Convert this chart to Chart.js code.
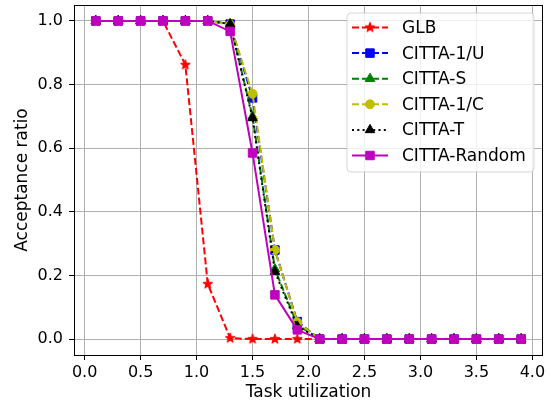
<!DOCTYPE html>
<html>
<head>
<meta charset="utf-8">
<script src="https://cdn.jsdelivr.net/npm/chart.js@4/dist/chart.umd.min.js"></script>
<style>
  body { margin: 0; background: #fff; }
  canvas { display: block; }
</style>
</head>
<body>
<canvas id="mycanvas" width="550" height="406"></canvas>
<script>
// task utilization (x) and acceptance ratio for each scheduler
var utilization = [0.1, 0.3, 0.5, 0.7, 0.9, 1.1, 1.3, 1.5, 1.7, 1.9, 2.1, 2.3, 2.5, 2.7, 2.9, 3.1, 3.3, 3.5, 3.7, 3.9];
var glb        = [1, 1, 1, 1, 0.862, 0.173, 0.003, 0, 0, 0, 0, 0, 0, 0, 0, 0, 0, 0, 0, 0];
var citta1U    = [1, 1, 1, 1, 1, 1, 0.99, 0.758, 0.28, 0.055, 0, 0, 0, 0, 0, 0, 0, 0, 0, 0];
var cittaS     = [1, 1, 1, 1, 1, 1, 0.99, 0.70, 0.22, 0.045, 0, 0, 0, 0, 0, 0, 0, 0, 0, 0];
var citta1C    = [1, 1, 1, 1, 1, 1, 0.988, 0.771, 0.28, 0.053, 0, 0, 0, 0, 0, 0, 0, 0, 0, 0];
var cittaT     = [1, 1, 1, 1, 1, 1, 0.99, 0.695, 0.212, 0.04, 0, 0, 0, 0, 0, 0, 0, 0, 0, 0];
var cittaRand  = [1, 1, 1, 1, 1, 1, 0.967, 0.585, 0.139, 0.029, 0, 0, 0, 0, 0, 0, 0, 0, 0, 0];

var xTicks = [0, 0.5, 1, 1.5, 2, 2.5, 3, 3.5, 4];
var yTicks = [0, 0.2, 0.4, 0.6, 0.8, 1.0];

var FONT = "'DejaVu Sans', sans-serif";

// filled 5 point star like matplotlib '*'
function makeStar(color) {
  var c = document.createElement('canvas');
  c.width = 14; c.height = 14;
  var g = c.getContext('2d');
  g.beginPath();
  for (var i = 0; i < 10; i++) {
    var r = (i % 2 === 0) ? 5.2 : 2.1;
    var a = -Math.PI / 2 + i * Math.PI / 5;
    var px = 7 + r * Math.cos(a), py = 7 + r * Math.sin(a);
    if (i === 0) g.moveTo(px, py); else g.lineTo(px, py);
  }
  g.closePath();
  g.fillStyle = color;
  g.strokeStyle = color;
  g.lineWidth = 1;
  g.fill();
  g.stroke();
  return c;
}

function pts(vals) {
  return utilization.map(function(x, i) { return {x: x, y: vals[i]}; });
}

function series(label, vals, color, dash, style, radius, order) {
  return {
    label: label,
    data: pts(vals),
    borderColor: color,
    backgroundColor: color,
    borderWidth: 2,
    borderDash: dash,
    pointStyle: style,
    pointRadius: radius,
    pointBorderWidth: 1,
    pointBackgroundColor: color,
    pointBorderColor: color,
    tension: 0,
    fill: false,
    order: order
  };
}

var DASH = [7, 3];
var DOT = [2, 3.3];

var datasets = [
  series('GLB', glb, '#ff0000', DASH, makeStar('#ff0000'), 5, 6),
  series('CITTA-1/U', citta1U, '#0000ff', DASH, 'rect', 6, 5),
  series('CITTA-S', cittaS, '#008000', DASH, 'triangle', 5.5, 4),
  series('CITTA-1/C', citta1C, '#bfbf00', DASH, 'circle', 4.5, 3),
  series('CITTA-T', cittaT, '#000000', DOT, 'triangle', 5.5, 2),
  series('CITTA-Random', cittaRand, '#bf00bf', [], 'rect', 6, 1)
];

var frameAndLegend = {
  id: 'frameAndLegend',
  afterDatasetsDraw: function(chart) {
    var ctx = chart.ctx, a = chart.chartArea;
    ctx.save();
    ctx.strokeStyle = '#000';
    ctx.lineWidth = 1;
    ctx.setLineDash([]);
    ctx.strokeRect(Math.round(a.left) + 0.5, Math.round(a.top) + 0.5,
                   Math.round(a.right - a.left) - 1, Math.round(a.bottom - a.top));
    ctx.restore();
  },
  afterDraw: function(chart) {
    var ctx = chart.ctx, a = chart.chartArea;
    var w = 187, h = 159;
    var bx = a.right - 9 - w, by = a.top + 8;
    var r = 4;
    ctx.save();
    ctx.beginPath();
    ctx.moveTo(bx + r, by);
    ctx.lineTo(bx + w - r, by);
    ctx.arcTo(bx + w, by, bx + w, by + r, r);
    ctx.lineTo(bx + w, by + h - r);
    ctx.arcTo(bx + w, by + h, bx + w - r, by + h, r);
    ctx.lineTo(bx + r, by + h);
    ctx.arcTo(bx, by + h, bx, by + h - r, r);
    ctx.lineTo(bx, by + r);
    ctx.arcTo(bx, by, bx + r, by, r);
    ctx.closePath();
    ctx.fillStyle = 'rgba(255,255,255,0.8)';
    ctx.fill();
    ctx.strokeStyle = 'rgba(204,204,204,0.8)';
    ctx.lineWidth = 1;
    ctx.stroke();

    chart.data.datasets.forEach(function(ds, i) {
      var y = by + 14.5 + i * 25.6;
      var x1 = bx + 5, x2 = bx + 41, xm = (x1 + x2) / 2;
      ctx.beginPath();
      ctx.setLineDash(ds.borderDash);
      ctx.strokeStyle = ds.borderColor;
      ctx.lineWidth = ds.borderWidth;
      ctx.moveTo(x1, y);
      ctx.lineTo(x2, y);
      ctx.stroke();
      ctx.setLineDash([]);
      ctx.fillStyle = ds.pointBackgroundColor;
      ctx.strokeStyle = ds.pointBorderColor;
      ctx.lineWidth = ds.pointBorderWidth;
      Chart.helpers.drawPoint(ctx, {
        pointStyle: ds.pointStyle, radius: ds.pointRadius,
        borderWidth: ds.pointBorderWidth, rotation: 0
      }, xm, y);
      ctx.fillStyle = '#000';
      ctx.font = '17px ' + FONT;
      ctx.textAlign = 'left';
      ctx.textBaseline = 'middle';
      ctx.fillText(ds.label, bx + 55, y + 1);
    });
    ctx.restore();
  }
};

var ctx = document.getElementById('mycanvas');

var LineGraph = new Chart(ctx, {
  type: 'line',
  data: { datasets: datasets },
  plugins: [frameAndLegend],
  options: {
    responsive: false,
    animation: false,
    events: [],
    layout: { autoPadding: false, padding: { left: 0, right: 7, top: 5, bottom: 0 } },
    plugins: {
      legend: { display: false },
      tooltip: { enabled: false }
    },
    scales: {
      x: {
        type: 'linear',
        min: -0.095,
        max: 4.095,
        afterBuildTicks: function(axis) {
          axis.ticks = xTicks.map(function(v) { return {value: v}; });
        },
        afterFit: function(axis) {
          axis.height = 51;
          axis.paddingLeft = 0;
          axis.paddingRight = 0;
        },
        grid: { color: '#b0b0b0', lineWidth: 1, tickColor: '#000', tickLength: 5 },
        border: { display: false },
        ticks: {
          color: '#000',
          font: { family: FONT, size: 16 },
          padding: 3,
          maxRotation: 0,
          callback: function(v) { return v.toFixed(1); }
        },
        title: {
          display: true,
          text: 'Task utilization',
          color: '#000',
          font: { family: FONT, size: 17 },
          padding: { top: 0, bottom: 3 }
        }
      },
      y: {
        min: -0.05,
        max: 1.05,
        afterBuildTicks: function(axis) {
          axis.ticks = yTicks.map(function(v) { return {value: v}; });
        },
        afterFit: function(axis) {
          axis.width = 74;
          axis.paddingTop = 0;
          axis.paddingBottom = 0;
        },
        grid: { color: '#b0b0b0', lineWidth: 1, tickColor: '#000', tickLength: 5 },
        border: { display: false },
        ticks: {
          color: '#000',
          font: { family: FONT, size: 16 },
          padding: 6,
          callback: function(v) { return v.toFixed(1); }
        },
        title: {
          display: true,
          text: 'Acceptance ratio',
          color: '#000',
          font: { family: FONT, size: 17 },
          padding: { top: 12.5, bottom: 0 }
        }
      }
    }
  }
});
</script>
</body>
</html>
